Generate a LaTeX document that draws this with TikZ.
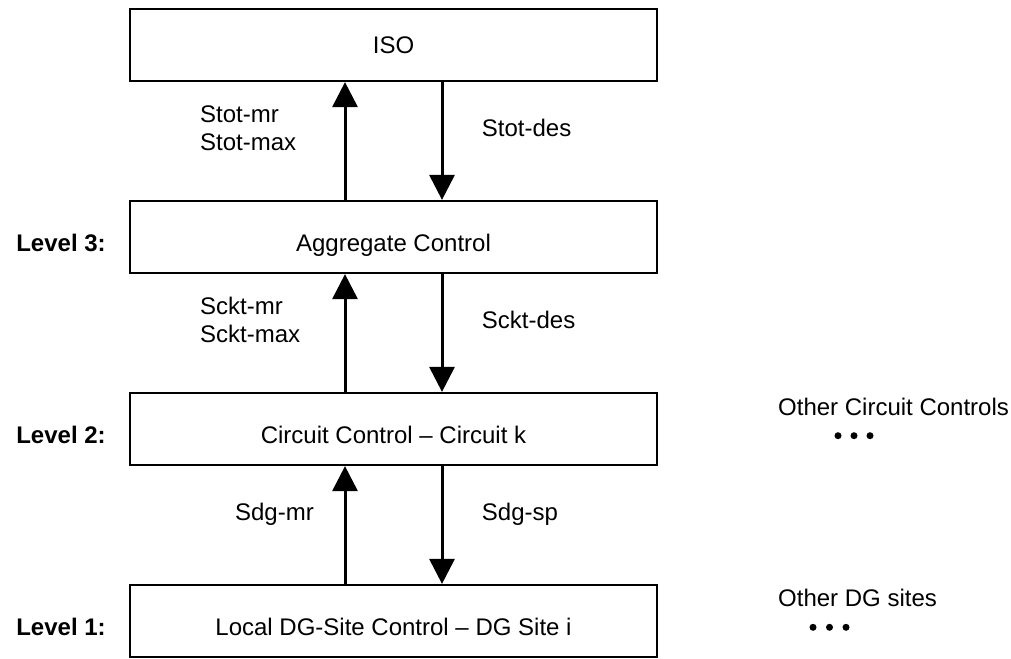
\documentclass[tikz,border=0pt]{standalone}
\usepackage{fontspec}
\setmainfont{Liberation Sans}
\usetikzlibrary{arrows.meta}

\newcommand{\txtsize}{\fontsize{24}{27.6}\selectfont}

\tikzset{
  ctrlbox/.style={draw, line width=2.2pt, minimum width=527pt, minimum height=72pt,
    inner sep=0pt, text height=29.4pt, text depth=0pt},
  isobox/.style={ctrlbox, text height=17.2pt},
  flow/.style={line width=3pt, -{Triangle[width=25pt, length=25pt]}},
  lvl/.style={font=\txtsize\bfseries, anchor=base, inner sep=0pt},
  sig/.style={inner sep=0pt, align=left},
  dot/.style={circle, fill, inner sep=0pt, minimum size=7pt},
}

\begin{document}
\begin{tikzpicture}[x=1pt, y=-1pt, font=\txtsize]
  \useasboundingbox (0,0) rectangle (1011,658);

  % control hierarchy
  \node[isobox]   (iso)   at (393.5, 45)  {ISO};
  \node[ctrlbox]  (agg)   at (393.5, 237) {Aggregate Control};
  \node[ctrlbox]  (circ)  at (393.5, 429) {Circuit Control -- Circuit k};
  \node[ctrlbox]  (local) at (393.5, 621) {Local DG-Site Control -- DG Site i};

  % level captions
  \node[lvl] (l3) at (61, 251.7) {Level 3:};
  \node[lvl] (l2) at (61, 443.7) {Level 2:};
  \node[lvl] (l1) at (61, 635.7) {Level 1:};

  % upward measurements and downward set points
  \draw[flow] ([xshift=-48.5pt]agg.north)   -- ([xshift=-48.5pt]iso.south);
  \draw[flow] ([xshift=48.5pt]iso.south)    -- ([xshift=48.5pt]agg.north);
  \draw[flow] ([xshift=-48.5pt]circ.north)  -- ([xshift=-48.5pt]agg.south);
  \draw[flow] ([xshift=48.5pt]agg.south)    -- ([xshift=48.5pt]circ.north);
  \draw[flow] ([xshift=-48.5pt]local.north) -- ([xshift=-48.5pt]circ.south);
  \draw[flow] ([xshift=48.5pt]circ.south)   -- ([xshift=48.5pt]local.north);

  % signal labels
  \node[sig, anchor=west] (stotup) at (200, 128) {Stot-mr\\Stot-max};
  \node[sig, anchor=base west] (stotdn) at (481.7, 136.7) {Stot-des};
  \node[sig, anchor=west] (scktup) at (200, 320) {Sckt-mr\\Sckt-max};
  \node[sig, anchor=base west] (scktdn) at (481.7, 328.7) {Sckt-des};
  \node[sig, anchor=base east] (sdgup) at (314, 520.7) {Sdg-mr};
  \node[sig, anchor=base west] (sdgdn) at (481.7, 520.7) {Sdg-sp};

  % parallel units
  \node[sig, anchor=base west] (othc) at (778, 415) {Other Circuit Controls};
  \node[dot] (c1) at (838, 435.7) {};
  \node[dot] (c2) at (854, 435.7) {};
  \node[dot] (c3) at (870, 435.7) {};
  \node[sig, anchor=base west] (othd) at (778, 606.7) {Other DG sites};
  \node[dot] (d1) at (813, 627.3) {};
  \node[dot] (d2) at (829.5, 627.3) {};
  \node[dot] (d3) at (846, 627.3) {};
\end{tikzpicture}
\end{document}
